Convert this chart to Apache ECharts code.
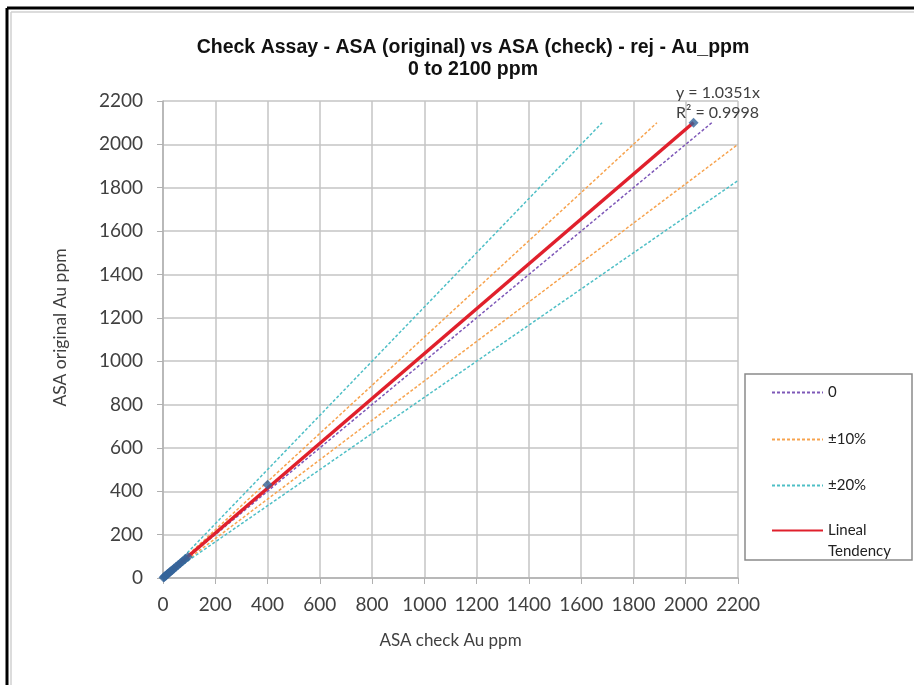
<!DOCTYPE html>
<html>
<head>
<meta charset="utf-8">
<script src="https://cdn.jsdelivr.net/npm/echarts@6/dist/echarts.min.js"></script>
<style>
  html, body { margin: 0; padding: 0; background: #fff; }
  #chart { width: 914px; height: 685px; }
</style>
</head>
<body>
<div id="chart"></div>
<script>
// measured assays (check vs original), Au ppm
const checkVals = [2, 5, 8, 12, 16, 20, 25, 30, 36, 42, 50, 58, 66, 75, 85, 95, 400, 2030]
const origVals  = [2, 5, 9, 12, 17, 21, 26, 31, 37, 44, 52, 60, 68, 77, 88, 97, 430, 2100]

// reference lines (end points)
const zeroX = [0, 2100], zeroY = [0, 2100]
const p10UpX = [0, 1890], p10UpY = [0, 2100]
const p10LoX = [0, 2200], p10LoY = [0, 2000]
const p20UpX = [0, 1680], p20UpY = [0, 2100]
const p20LoX = [0, 2200], p20LoY = [0, 1833]
const trendX = [0, 2030], trendY = [0, 2101]

const axisTicks = [0, 200, 400, 600, 800, 1000, 1200, 1400, 1600, 1800, 2000, 2200]

const pairs = (xs, ys) => xs.map((x, i) => [x, ys[i]])

const FONT = 'Lato, "Open Sans", sans-serif'

const chart = echarts.init(document.getElementById('chart'))

// dashed reference line helper
const refLine = (name, xs, ys, color) => ({
  name,
  type: 'line',
  data: pairs(xs, ys),
  symbol: 'none',
  silent: true,
  z: 2,
  lineStyle: { color, width: 1.5, type: [3, 2] },
  itemStyle: { color }
})

const legendBase = {
  orient: 'vertical',
  left: 766,
  itemWidth: 51,
  itemHeight: 10,
  itemGap: 0,
  selectedMode: false,
  itemStyle: { opacity: 0 },
  textStyle: { fontFamily: FONT, fontSize: 15, lineHeight: 21, color: '#222' }
}

const option = {
  animation: false,
  title: {
    text: 'Check Assay - ASA (original) vs ASA (check) - rej - Au_ppm\n0 to 2100 ppm',
    left: 468,
    top: 32,
    textAlign: 'center',
    textStyle: {
      fontFamily: '"Liberation Sans", Arial, sans-serif',
      fontWeight: 'bold',
      fontSize: 19.5,
      lineHeight: 22,
      color: '#111'
    }
  },
  grid: { left: 163, right: 176, top: 101, bottom: 107 },
  xAxis: {
    type: 'value',
    min: 0,
    max: 2200,
    interval: 200,
    name: 'ASA check Au ppm',
    nameLocation: 'middle',
    nameGap: 54,
    nameTextStyle: { fontFamily: FONT, fontSize: 17, color: '#404040' },
    axisLine: { lineStyle: { color: '#b0b0b0', width: 1.5 } },
    axisTick: { show: true, length: 6, lineStyle: { color: '#b0b0b0' } },
    axisLabel: {
      fontFamily: FONT, fontSize: 19, color: '#404040', margin: 17,
      formatter: v => axisTicks.includes(v) ? String(v) : ''
    },
    splitLine: { lineStyle: { color: '#c4c4c4', width: 1.5 } }
  },
  yAxis: {
    type: 'value',
    min: 0,
    max: 2200,
    interval: 200,
    name: 'ASA original Au ppm',
    nameLocation: 'middle',
    nameGap: 94,
    // extra space at the start of the (rotated) text nudges it upward
    nameTextStyle: { fontFamily: FONT, fontSize: 17.5, color: '#404040', padding: [0, 0, 0, 24] },
    axisLine: { show: true, lineStyle: { color: '#b0b0b0', width: 1.5 } },
    axisTick: { show: true, length: 6, lineStyle: { color: '#b0b0b0' } },
    axisLabel: {
      fontFamily: FONT, fontSize: 19, color: '#404040', margin: 20,
      formatter: v => axisTicks.includes(v) ? String(v) : ''
    },
    splitLine: { lineStyle: { color: '#c4c4c4', width: 1.5 } }
  },
  legend: [
    Object.assign({}, legendBase, { top: 377, data: ['0'] }),
    Object.assign({}, legendBase, { top: 424, data: ['±10%'] }),
    Object.assign({}, legendBase, { top: 470, data: ['±20%'] }),
    Object.assign({}, legendBase, {
      top: 494,
      data: ['Lineal Tendency'],
      // blank first line keeps the icon level with "Lineal"
      formatter: () => ' \nLineal\nTendency'
    })
  ],
  graphic: [
    // outer frame (top + left)
    { type: 'line', shape: { x1: 7, y1: 8, x2: 914, y2: 8 }, style: { stroke: '#000', lineWidth: 3 } },
    { type: 'line', shape: { x1: 7, y1: 8, x2: 7, y2: 685 }, style: { stroke: '#000', lineWidth: 3 } },
    { type: 'line', shape: { x1: 11, y1: 12, x2: 914, y2: 12 }, style: { stroke: '#d0d0d0', lineWidth: 1.5 } },
    { type: 'line', shape: { x1: 11, y1: 12, x2: 11, y2: 685 }, style: { stroke: '#d0d0d0', lineWidth: 1.5 } },
    // legend box
    {
      type: 'rect',
      shape: { x: 745, y: 374, width: 167, height: 186 },
      style: { fill: 'none', stroke: '#8a8a8a', lineWidth: 1.5 },
      z: 0
    },
    // trendline equation
    {
      type: 'text',
      left: 676,
      top: 83,
      style: {
        text: 'y = 1.0351x\nR² = 0.9998',
        font: '16px ' + FONT,
        fill: '#404040',
        lineHeight: 20
      },
      z: 10
    }
  ],
  series: [
    refLine('0', zeroX, zeroY, '#7e58b8'),
    refLine('±10%', p10UpX, p10UpY, '#f7a34e'),
    refLine('±10%', p10LoX, p10LoY, '#f7a34e'),
    refLine('±20%', p20UpX, p20UpY, '#4fbfc6'),
    refLine('±20%', p20LoX, p20LoY, '#4fbfc6'),
    {
      name: 'Lineal Tendency',
      type: 'line',
      data: pairs(trendX, trendY),
      symbol: 'none',
      z: 4,
      lineStyle: { color: '#e0202c', width: 3.5 },
      itemStyle: { color: '#e0202c' }
    },
    {
      name: 'data',
      type: 'scatter',
      data: pairs(checkVals, origVals),
      symbol: 'diamond',
      symbolSize: 10,
      z: 5,
      itemStyle: { color: '#34649a' }
    }
  ]
}

chart.setOption(option)
</script>
</body>
</html>
